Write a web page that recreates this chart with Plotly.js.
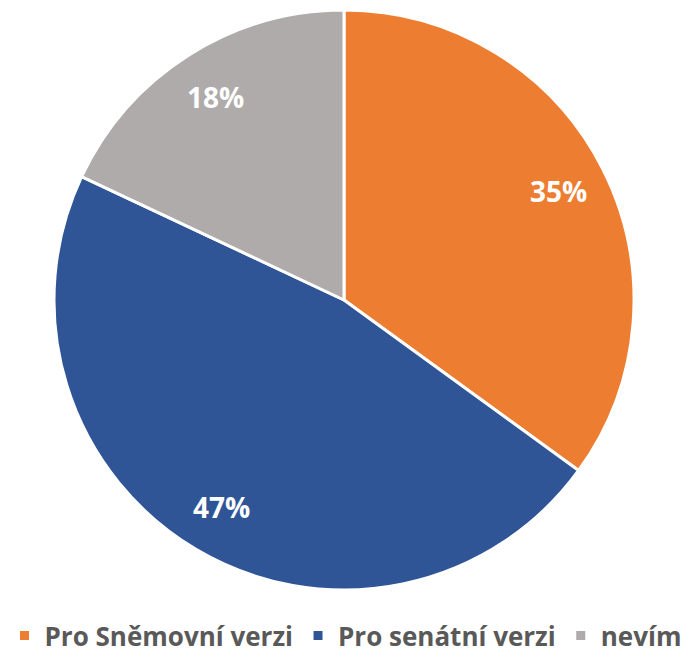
<!DOCTYPE html>
<html><head><meta charset="utf-8">
<script src="https://cdn.plot.ly/plotly-3.0.1.min.js"></script>
<style>body{margin:0;background:#fff}#c{width:691px;height:659px}</style>
</head><body><div id="c"></div>
<script>
const labels = ["Pro Sněmovní verzi", "Pro senátní verzi", "nevím"];
const values = [35, 47, 18];
const colors = ["#ED7D31", "#2F5597", "#AFABAB"];

const W = 691, H = 659, cx = 344, cy = 300, R = 290;
const total = values.reduce((a, b) => a + b, 0);
const annotations = [];
let acc = 0;
values.forEach((v, i) => {
  const mid = (acc + v / 2) / total * 2 * Math.PI;
  acc += v;
  const r = 0.83 * R;
  annotations.push({
    xref: "paper", yref: "paper",
    x: (cx + r * Math.sin(mid)) / W, y: 1 - (cy - r * Math.cos(mid)) / H,
    xanchor: "center", yanchor: "middle", showarrow: false,
    text: Math.round(v / total * 100) + "%",
    font: {family: "Open Sans", size: 28, color: "#ffffff", weight: "bold"}
  });
});

Plotly.newPlot("c", [{
  type: "pie", labels: labels, values: values, sort: false, direction: "clockwise", rotation: 0,
  marker: {colors: colors, line: {color: "#ffffff", width: 3}},
  textinfo: "none",
  domain: {x: [(cx - R) / W, (cx + R) / W], y: [1 - (cy + R) / H, 1 - (cy - R) / H]},
  hoverinfo: "none"
}], {
  width: W, height: H, margin: {l: 0, r: 0, t: 0, b: 0, autoexpand: false},
  paper_bgcolor: "#ffffff",
  annotations: annotations,
  showlegend: true,
  legend: {orientation: "h", x: 0.5, xanchor: "center", y: 0, yanchor: "bottom",
    itemwidth: 30, tracegroupgap: 0,
    font: {family: "Open Sans", size: 26, color: "#595959", weight: 700}, traceorder: "normal"}
}, {displayModeBar: false, staticPlot: true});
</script></body></html>
